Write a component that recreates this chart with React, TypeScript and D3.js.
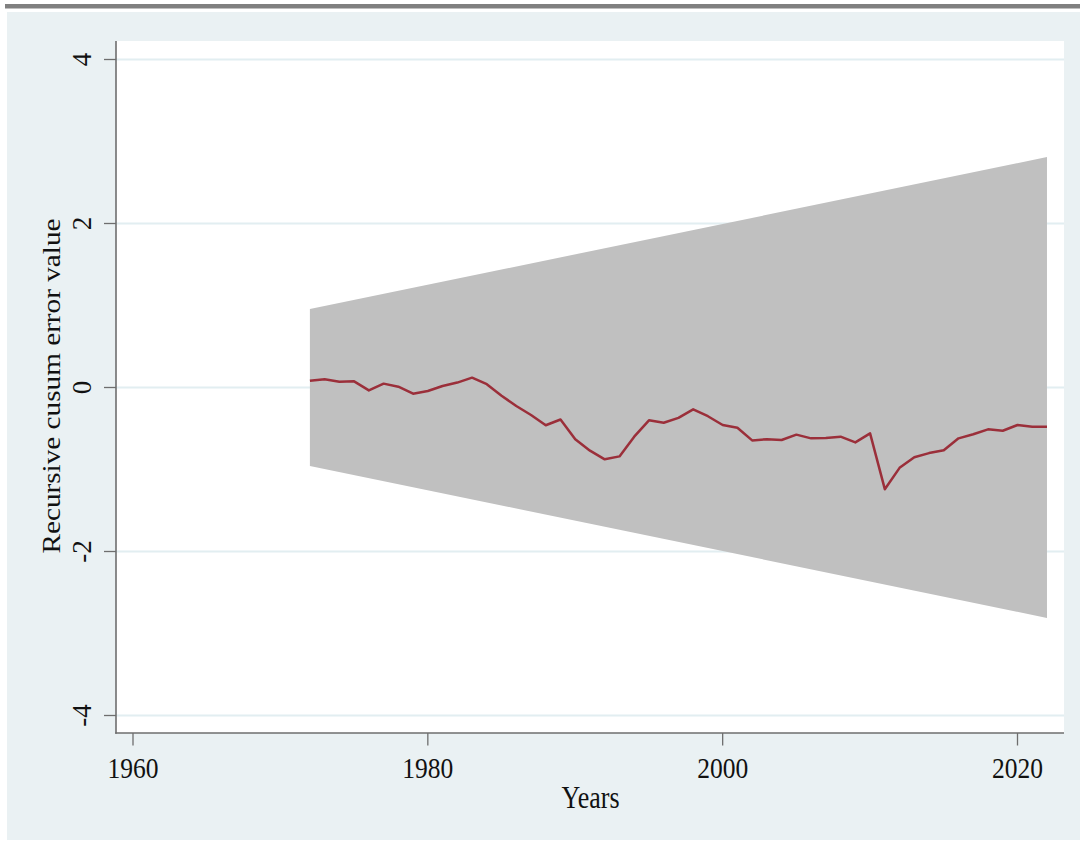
import React from "react";
import * as d3 from "d3";

const years: number[] = [
  1972, 1973, 1974, 1975, 1976, 1977, 1978, 1979, 1980, 1981,
  1982, 1983, 1984, 1985, 1986, 1987, 1988, 1989, 1990, 1991,
  1992, 1993, 1994, 1995, 1996, 1997, 1998, 1999, 2000, 2001,
  2002, 2003, 2004, 2005, 2006, 2007, 2008, 2009, 2010, 2011,
  2012, 2013, 2014, 2015, 2016, 2017, 2018, 2019, 2020, 2021, 2022,
];
const cusum: number[] = [
  0.083, 0.1, 0.07, 0.075, -0.035, 0.047, 0.01, -0.075, -0.043, 0.018,
  0.06, 0.12, 0.04, -0.1, -0.226, -0.335, -0.46, -0.39, -0.63, -0.77,
  -0.876, -0.84, -0.6, -0.4, -0.43, -0.37, -0.266, -0.35, -0.457, -0.49,
  -0.645, -0.63, -0.64, -0.575, -0.62, -0.616, -0.6, -0.67, -0.56, -1.24,
  -0.98, -0.85, -0.8, -0.766, -0.62, -0.57, -0.51, -0.527, -0.457, -0.48, -0.478,
];
// Confidence band bounds at the first and last year (linear)
const bandYears: number[] = [1972, 2022];
const bandUpper: number[] = [0.957, 2.81];
const bandLower: number[] = [-0.957, -2.81];

const xTicks: number[] = [1960, 1980, 2000, 2020];
const yTicks: number[] = [-4, -2, 0, 2, 4];
const yTickLabels: string[] = ["-4", "-2", "0", "2", "4"];
const xTitle = "Years";
const yTitle = "Recursive cusum error value";

const W = 1080;
const H = 841;
const plot = { left: 116, right: 1064, top: 41, bottom: 733 };

export default function App() {
  const x = d3.scaleLinear().domain([1960, 2020]).range([133, 1017.5]);
  const y = d3.scaleLinear().domain([-4, 4]).range([715.5, 59.5]);

  const bandData = bandYears.map((yr, i) => ({ yr, lo: bandLower[i], hi: bandUpper[i] }));
  const area = d3
    .area<{ yr: number; lo: number; hi: number }>()
    .x((d) => x(d.yr))
    .y0((d) => y(d.lo))
    .y1((d) => y(d.hi));
  const line = d3
    .line<number>()
    .x((_, i) => x(years[i]))
    .y((d) => y(d));

  const font = "'Liberation Serif', 'Times New Roman', serif";
  const axisColor = "#6e6e6e";

  return (
    <svg
      width={W}
      height={H}
      style={{ position: "absolute", left: 0, top: 0, display: "block" }}
    >
      <rect x={0} y={0} width={W} height={H} fill="#ffffff" />
      <rect x={5} y={4} width={W - 5} height={4.5} fill="#808080" />
      <rect x={7} y={12} width={W - 7} height={828} fill="#eaf1f3" />
      <rect
        x={plot.left}
        y={plot.top}
        width={plot.right - plot.left}
        height={plot.bottom - plot.top}
        fill="#ffffff"
      />
      {yTicks.map((t) => (
        <line
          key={"g" + t}
          x1={plot.left}
          x2={plot.right}
          y1={y(t)}
          y2={y(t)}
          stroke="#e2eef1"
          strokeWidth={1.8}
        />
      ))}
      <path d={area(bandData) || ""} fill="#c0c0c0" />
      <path
        d={line(cusum) || ""}
        fill="none"
        stroke="#9b2f3a"
        strokeWidth={2.5}
        strokeLinejoin="round"
      />
      {/* axes */}
      <line x1={plot.left} x2={plot.left} y1={plot.top} y2={plot.bottom + 0.8} stroke={axisColor} strokeWidth={1.6} />
      <line x1={plot.left - 0.8} x2={plot.right} y1={plot.bottom} y2={plot.bottom} stroke={axisColor} strokeWidth={1.6} />
      {yTicks.map((t, i) => (
        <g key={"yt" + t}>
          <line x1={104} x2={plot.left} y1={y(t)} y2={y(t)} stroke={axisColor} strokeWidth={1.3} />
          <text
            transform={`translate(91,${y(t)}) rotate(-90)`}
            textAnchor="middle"
            fontFamily={font}
            fontSize={27}
            fill="#111"
          >
            {yTickLabels[i]}
          </text>
        </g>
      ))}
      {xTicks.map((t) => (
        <g key={"xt" + t}>
          <line x1={x(t)} x2={x(t)} y1={plot.bottom} y2={745.5} stroke={axisColor} strokeWidth={1.3} />
          <text
            transform={`translate(${x(t)},778) scale(1,1.16)`}
            textAnchor="middle"
            fontFamily={font}
            fontSize={25.5}
            fill="#111"
          >
            {t}
          </text>
        </g>
      ))}
      <text
        transform={`translate(590.5,808) scale(1,1.2)`}
        textAnchor="middle"
        fontFamily={font}
        fontSize={26}
        fill="#111"
      >
        {xTitle}
      </text>
      <text
        transform={`translate(60,386) rotate(-90)`}
        textAnchor="middle"
        fontFamily={font}
        fontSize={25}
        textLength={335}
        lengthAdjust="spacingAndGlyphs"
        fill="#111"
      >
        {yTitle}
      </text>
    </svg>
  );
}
